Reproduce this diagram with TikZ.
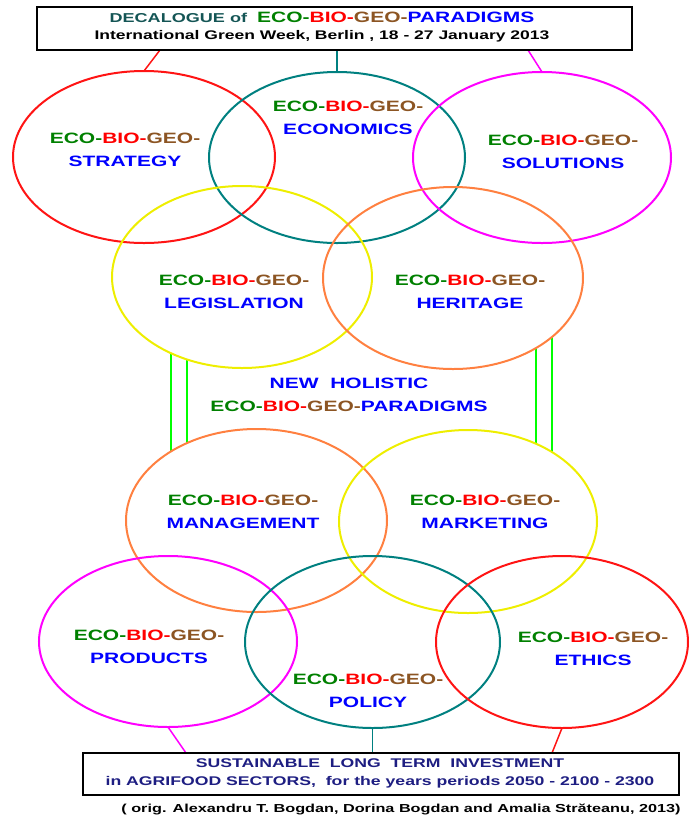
\documentclass[tikz,border=0pt]{standalone}
\usepackage{fontspec}
\setmainfont{Liberation Sans}[FakeStretch=1.4]
\usetikzlibrary{shapes.geometric}
\pgfdeclarelayer{edgelayer}
\pgfdeclarelayer{nodelayer}
\pgfsetlayers{edgelayer,nodelayer,main}
\definecolor{ecogreen}{RGB}{0,128,0}
\definecolor{biored}{RGB}{255,0,0}
\definecolor{geobrown}{RGB}{140,85,35}
\definecolor{parblue}{RGB}{0,0,255}
\definecolor{decteal}{RGB}{20,85,85}
\definecolor{sustnavy}{RGB}{30,30,130}
\definecolor{ovred}{RGB}{255,20,20}
\definecolor{ovteal}{RGB}{0,128,128}
\definecolor{ovmag}{RGB}{255,0,255}
\definecolor{ovyellow}{RGB}{238,238,0}
\definecolor{ovorange}{RGB}{255,128,64}
\definecolor{linkgreen}{RGB}{0,255,0}
\newcommand{\ebg}{\textcolor{ecogreen}{ECO-}\textcolor{biored}{BIO-}\textcolor{geobrown}{GEO-}}
\tikzset{x=1pt,y=-1pt,font=\bfseries}
\tikzstyle{none}=[inner sep=0pt]
\tikzstyle{oval}=[ellipse,draw,line width=2pt,inner sep=0pt,outer sep=0pt]
\tikzstyle{banner}=[draw,line width=2.5pt,inner sep=0pt,fill=white]
\tikzstyle{words}=[inner sep=0pt,align=center,text=parblue,font=\fontsize{15}{22.5}\selectfont\bfseries]
\tikzstyle{link}=[line width=2pt,linkgreen]

\begin{document}
\begin{tikzpicture}
	\useasboundingbox (0, 0) rectangle (689, 823);
	\begin{pgfonlayer}{nodelayer}
		\node [style=banner, minimum width=595pt, minimum height=43pt] (0) at (334.5, 28.5) {};
		\node [style=oval, draw=ovred, minimum width=262pt, minimum height=172pt] (1) at (144, 157) {};
		\node [style=oval, draw=ovteal, minimum width=256pt, minimum height=171pt] (2) at (337, 157.5) {};
		\node [style=oval, draw=ovmag, minimum width=258pt, minimum height=171pt] (3) at (542, 157.5) {};
		\node [style=oval, draw=ovyellow, minimum width=260pt, minimum height=182pt] (4) at (242, 277) {};
		\node [style=oval, draw=ovorange, minimum width=260pt, minimum height=182pt] (5) at (453, 278) {};
		\node [style=oval, draw=ovorange, minimum width=261pt, minimum height=183pt] (6) at (256.5, 520.5) {};
		\node [style=oval, draw=ovyellow, minimum width=258pt, minimum height=183pt] (7) at (468, 521.5) {};
		\node [style=oval, draw=ovmag, minimum width=258pt, minimum height=171pt] (8) at (168, 641.5) {};
		\node [style=oval, draw=ovteal, minimum width=255pt, minimum height=172pt] (9) at (372.5, 642) {};
		\node [style=oval, draw=ovred, minimum width=252pt, minimum height=172pt] (10) at (562, 642) {};
		\node [style=banner, minimum width=596pt, minimum height=42pt] (11) at (381, 774) {};
		\node [style=none, align=center, font=\fontsize{12.9}{17}\selectfont\bfseries] (12) at (322, 27) {\textcolor{decteal}{DECALOGUE of}~~{\fontsize{15}{17}\selectfont\ebg\textcolor{parblue}{PARADIGMS}}\\{\fontsize{12.5}{17}\selectfont International Green Week, Berlin , 18 - 27 January 2013}};
		\node [style=words] (13) at (125, 150) {\ebg\\STRATEGY};
		\node [style=words] (14) at (348, 118) {\ebg\\ECONOMICS};
		\node [style=words] (15) at (563, 152) {\ebg\\SOLUTIONS};
		\node [style=words] (16) at (234, 292) {\ebg\\LEGISLATION};
		\node [style=words] (17) at (470, 292) {\ebg\\HERITAGE};
		\node [style=words] (18) at (349, 395) {NEW~~HOLISTIC\\\ebg PARADIGMS};
		\node [style=words] (19) at (243, 512) {\ebg\\MANAGEMENT};
		\node [style=words] (20) at (485, 512) {\ebg\\MARKETING};
		\node [style=words] (21) at (149, 647) {\ebg\\PRODUCTS};
		\node [style=words] (22) at (368, 691) {\ebg\\POLICY};
		\node [style=words] (23) at (593, 649) {\ebg\\ETHICS};
		\node [style=none, align=center, text=sustnavy, font=\fontsize{12.6}{18}\selectfont\bfseries] (24) at (380, 773) {SUSTAINABLE~~LONG~~TERM~~INVESTMENT\\in AGRIFOOD SECTORS,~~for the years periods 2050 - 2100 - 2300};
		\node [style=none, font=\fontsize{11.6}{13}\selectfont\bfseries] (25) at (401, 809) {( orig. Alexandru T. Bogdan, Dorina Bogdan and Amalia Străteanu, 2013)};
		\coordinate (26) at (160, 50);
		\coordinate (27) at (528, 50);
		\coordinate (28) at (186, 753);
		\coordinate (29) at (552, 753);
	\end{pgfonlayer}
	\begin{pgfonlayer}{edgelayer}
		\draw[ovred, line width=1.5pt] (1.north) to (26);
		\draw[ovteal, line width=1.5pt] (2.north) to (2.north |- 0.south);
		\draw[ovmag, line width=1.5pt] (3.north) to (27);
		\draw[style=link] (4.227) to (4.227 |- 6.141);
		\draw[style=link] (4.236) to (4.236 |- 6.132);
		\draw[style=link] (5.320) to (5.320 |- 7.49);
		\draw[style=link] (5.329) to (5.329 |- 7.40);
		\draw[ovmag, line width=1.5pt] (8.south) to (28);
		\draw[ovteal, line width=1.5pt] (9.south) to (9.south |- 11.north);
		\draw[ovred, line width=1.5pt] (10.south) to (29);
	\end{pgfonlayer}
\end{tikzpicture}
\end{document}
